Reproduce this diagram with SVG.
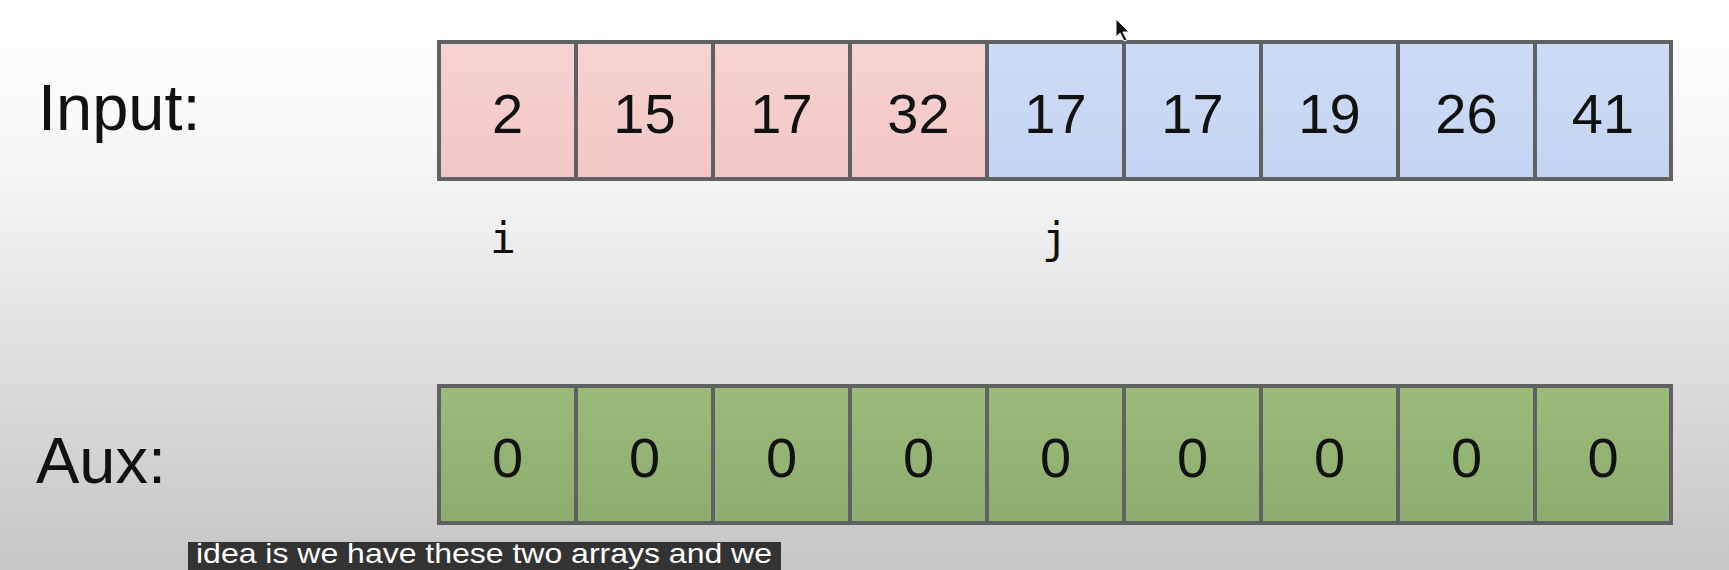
<svg xmlns="http://www.w3.org/2000/svg" width="1729" height="570" viewBox="0 0 1729 570">
<defs>
<linearGradient id="bg" x1="0" y1="0" x2="0" y2="1">
<stop offset="0" stop-color="#ffffff"/>
<stop offset="0.3" stop-color="#f6f6f6"/>
<stop offset="0.6" stop-color="#e0e0e0"/>
<stop offset="1" stop-color="#c6c6c6"/>
</linearGradient>
<linearGradient id="pink" x1="0" y1="0" x2="0" y2="1">
<stop offset="0" stop-color="#f7d3d1"/>
<stop offset="1" stop-color="#f2c7c5"/>
</linearGradient>
<linearGradient id="blue" x1="0" y1="0" x2="0" y2="1">
<stop offset="0" stop-color="#cddcf6"/>
<stop offset="1" stop-color="#c3d5f3"/>
</linearGradient>
<linearGradient id="green" x1="0" y1="0" x2="0" y2="1">
<stop offset="0" stop-color="#9bbb7b"/>
<stop offset="1" stop-color="#8cad6d"/>
</linearGradient>
</defs>
<style>
.cell{stroke:#606163;stroke-width:4;}
.p{fill:url(#pink);}
.b{fill:url(#blue);}
.g{fill:url(#green);}
.num{font-family:"Liberation Sans",Arial,sans-serif;font-size:56px;fill:#111;text-anchor:middle;}
.lbl{font-family:"Liberation Sans",Arial,sans-serif;font-size:65px;fill:#111;}
.ptr{font-family:"DejaVu Sans Mono",monospace;font-size:43px;fill:#111;text-anchor:middle;}
.cap{font-family:"Liberation Sans",Arial,sans-serif;font-size:28px;fill:#ffffff;}
</style>
<rect x="0" y="0" width="1729" height="570" fill="url(#bg)"/>

<text class="lbl" x="38" y="130">Input:</text>
<text class="lbl" x="36" y="483">Aux:</text>

<g id="input">
<g id="in0"><rect class="cell p" x="439" y="42" width="137" height="137"/><text class="num" x="507.5" y="133">2</text></g>
<g id="in1"><rect class="cell p" x="576" y="42" width="137" height="137"/><text class="num" x="644.5" y="133">15</text></g>
<g id="in2"><rect class="cell p" x="713" y="42" width="137" height="137"/><text class="num" x="781.5" y="133">17</text></g>
<g id="in3"><rect class="cell p" x="850" y="42" width="137" height="137"/><text class="num" x="918.5" y="133">32</text></g>
<g id="in4"><rect class="cell b" x="987" y="42" width="137" height="137"/><text class="num" x="1055.5" y="133">17</text></g>
<g id="in5"><rect class="cell b" x="1124" y="42" width="137" height="137"/><text class="num" x="1192.5" y="133">17</text></g>
<g id="in6"><rect class="cell b" x="1261" y="42" width="137" height="137"/><text class="num" x="1329.5" y="133">19</text></g>
<g id="in7"><rect class="cell b" x="1398" y="42" width="137" height="137"/><text class="num" x="1466.5" y="133">26</text></g>
<g id="in8"><rect class="cell b" x="1535" y="42" width="136" height="137"/><text class="num" x="1603" y="133">41</text></g>
</g>

<g id="pointers">
<text class="ptr" x="503" y="253">i</text>
<text class="ptr" x="1055" y="253">j</text>
</g>

<g id="aux">
<g id="a0"><rect class="cell g" x="439" y="386" width="137" height="137"/><text class="num" x="507.5" y="477">0</text></g>
<g id="a1"><rect class="cell g" x="576" y="386" width="137" height="137"/><text class="num" x="644.5" y="477">0</text></g>
<g id="a2"><rect class="cell g" x="713" y="386" width="137" height="137"/><text class="num" x="781.5" y="477">0</text></g>
<g id="a3"><rect class="cell g" x="850" y="386" width="137" height="137"/><text class="num" x="918.5" y="477">0</text></g>
<g id="a4"><rect class="cell g" x="987" y="386" width="137" height="137"/><text class="num" x="1055.5" y="477">0</text></g>
<g id="a5"><rect class="cell g" x="1124" y="386" width="137" height="137"/><text class="num" x="1192.5" y="477">0</text></g>
<g id="a6"><rect class="cell g" x="1261" y="386" width="137" height="137"/><text class="num" x="1329.5" y="477">0</text></g>
<g id="a7"><rect class="cell g" x="1398" y="386" width="137" height="137"/><text class="num" x="1466.5" y="477">0</text></g>
<g id="a8"><rect class="cell g" x="1535" y="386" width="136" height="137"/><text class="num" x="1603" y="477">0</text></g>
</g>

<g id="connectors"></g>

<path d="M1116 19 L1116 37 L1120 33 L1124 41 L1127 40 L1123 32 L1129 32 Z" fill="#111" stroke="#fff" stroke-width="1"/>

<g id="caption">
<rect x="188" y="542" width="593" height="28" fill="#333333"/>
<text class="cap" x="196" y="563" textLength="576" lengthAdjust="spacingAndGlyphs">idea is we have these two arrays and we</text>
</g>
</svg>
